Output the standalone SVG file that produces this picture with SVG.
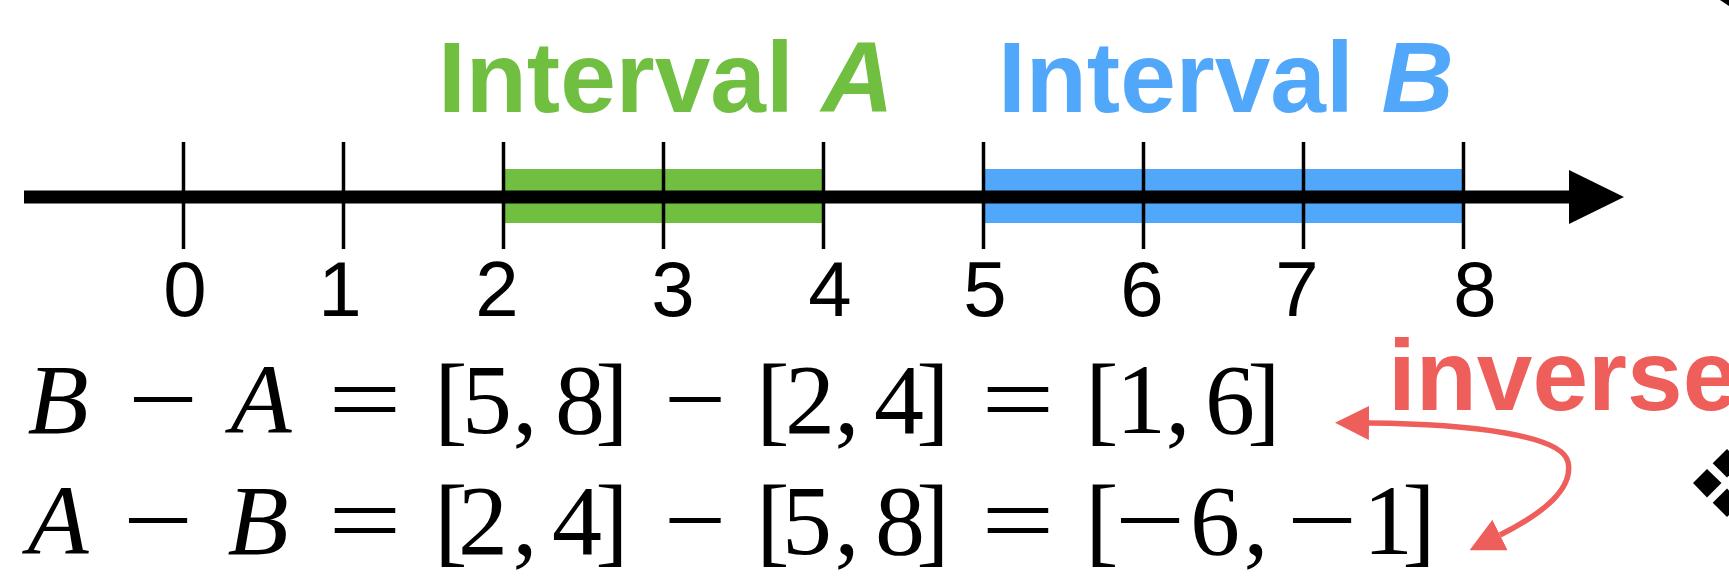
<svg xmlns="http://www.w3.org/2000/svg" width="1729" height="578" viewBox="0 0 1729 578">
<style>
.tick{stroke:#000;stroke-width:3.5}
.num{font-family:"Liberation Sans",Arial,sans-serif;font-size:78px;fill:#000;text-anchor:middle}
.title{font-family:"Liberation Sans",Arial,sans-serif;font-size:100px;font-weight:bold}
.eq{font-family:"Liberation Serif","Times New Roman",serif;font-size:100px;fill:#000;text-anchor:middle}
.it{font-style:italic}
.op{font-family:"Liberation Serif","Times New Roman",serif;font-size:100px;fill:#000;text-anchor:middle}
.red{fill:#EE5F5B}
</style>
<defs>
<marker id="ah" markerUnits="userSpaceOnUse" viewBox="0 0 34 34" markerWidth="34" markerHeight="34" refX="0" refY="17" orient="auto-start-reverse">
<path d="M0,0 L34,17 L0,34 z" fill="#EE5F5B"/>
</marker>
</defs>
<rect width="1729" height="578" fill="#fff"/>
<g id="intervalA">
<rect x="504" y="169" width="318" height="54" fill="#70BF41"/>
<text class="title" x="438" y="111.5" fill="#70BF41">Interval <tspan class="it">A</tspan></text>
</g>
<g id="intervalB">
<rect x="983" y="169" width="481" height="54" fill="#51A7F9"/>
<text class="title" x="998" y="111.5" fill="#51A7F9">Interval <tspan class="it">B</tspan></text>
</g>
<g id="axis">
<line x1="24" y1="197" x2="1571" y2="197" stroke="#000" stroke-width="13"/>
<polygon points="1569,170 1624,197 1569,224" fill="#000"/>
<line class="tick" x1="183.5" y1="142" x2="183.5" y2="249"/>
<line class="tick" x1="343.5" y1="142" x2="343.5" y2="249"/>
<line class="tick" x1="503.5" y1="142" x2="503.5" y2="249"/>
<line class="tick" x1="663.5" y1="142" x2="663.5" y2="249"/>
<line class="tick" x1="823.5" y1="142" x2="823.5" y2="249"/>
<line class="tick" x1="983.5" y1="142" x2="983.5" y2="249"/>
<line class="tick" x1="1143.5" y1="142" x2="1143.5" y2="249"/>
<line class="tick" x1="1303.5" y1="142" x2="1303.5" y2="249"/>
<line class="tick" x1="1463.5" y1="142" x2="1463.5" y2="249"/>
<text class="num" x="185" y="316">0</text>
<text class="num" x="340" y="316">1</text>
<text class="num" x="497" y="316">2</text>
<text class="num" x="673" y="316">3</text>
<text class="num" x="830" y="316">4</text>
<text class="num" x="985" y="316">5</text>
<text class="num" x="1142" y="316">6</text>
<text class="num" x="1297" y="316">7</text>
<text class="num" x="1475" y="316">8</text>
</g>
<g id="eq1">
<text class="eq" y="433"><tspan class="it" x="58">B</tspan><tspan class="it" x="261">A</tspan><tspan x="451">[</tspan><tspan x="487">5</tspan><tspan x="525">,</tspan><tspan x="580">8</tspan><tspan x="612">]</tspan><tspan x="773">[</tspan><tspan x="810">2</tspan><tspan x="847">,</tspan><tspan x="899">4</tspan><tspan x="933">]</tspan><tspan x="1102">[</tspan><tspan x="1141">1</tspan><tspan x="1178">,</tspan><tspan x="1230">6</tspan><tspan x="1264">]</tspan></text>
<text class="op" transform="translate(163,433) scale(1.25,1)">−</text>
<text class="op" transform="translate(365,433) scale(1.3,1)">=</text>
<text class="op" transform="translate(695,433) scale(1.1,1)">−</text>
<text class="op" transform="translate(1018,433) scale(1.3,1)">=</text>
</g>
<g id="eq2">
<text class="eq" y="554"><tspan class="it" x="58">A</tspan><tspan class="it" x="258">B</tspan><tspan x="451">[</tspan><tspan x="483">2</tspan><tspan x="525">,</tspan><tspan x="577">4</tspan><tspan x="612">]</tspan><tspan x="773">[</tspan><tspan x="807">5</tspan><tspan x="847">,</tspan><tspan x="900">8</tspan><tspan x="933">]</tspan><tspan x="1102">[</tspan><tspan x="1215">6</tspan><tspan x="1256">,</tspan><tspan x="1388">1</tspan><tspan x="1419">]</tspan></text>
<text class="op" transform="translate(158,554) scale(1.25,1)">−</text>
<text class="op" transform="translate(365,554) scale(1.3,1)">=</text>
<text class="op" transform="translate(695,554) scale(1.1,1)">−</text>
<text class="op" transform="translate(1018,554) scale(1.3,1)">=</text>
<text class="op" transform="translate(1150,554) scale(1.25,1)">−</text>
<text class="op" transform="translate(1322,554) scale(1.25,1)">−</text>
</g>
<g id="inverse">
<text class="title red" x="1388" y="410" font-size="105">inverse</text>
</g>
<g id="connectors">
<path d="M1369,423 C1470,424 1562,435 1568,462 C1574,490 1540,515 1500,535" fill="none" stroke="#EE5F5B" stroke-width="5.5" marker-start="url(#ah)" marker-end="url(#ah)"/>
</g>
<g id="edge-icons" fill="#000">
<polygon points="1693,483 1707,469 1721.5,483 1707,497.5"/>
<polygon points="1712.7,463.3 1727,449 1741,463.3 1727,477.6"/>
<polygon points="1712.7,502.7 1727,488.4 1741,502.7 1727,517"/>
<polygon points="1720,0 1729,0 1729,6"/>
</g>
</svg>
